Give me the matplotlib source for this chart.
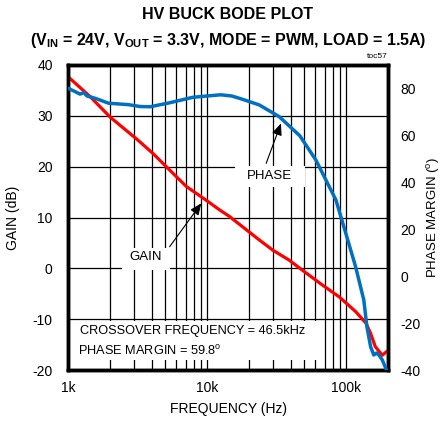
import numpy as np
import matplotlib.pyplot as plt
from matplotlib.patches import Rectangle

plt.rcParams['font.family'] = ['Liberation Sans', 'DejaVu Sans']
plt.rcParams['mathtext.fontset'] = 'custom'
plt.rcParams['mathtext.rm'] = 'Liberation Sans'
plt.rcParams['mathtext.bf'] = 'Liberation Sans:bold'
plt.rcParams['axes.unicode_minus'] = False

# loop gain (dB) vs frequency (kHz)
gain_f = [1.0, 1.44, 2.0, 3.19, 4.08, 6.35, 7.1, 9.85, 12.3, 14.5, 23.7, 29.6,
          39.0, 46.5, 67.6, 89.0, 117, 139, 150, 162, 182, 195, 200]
gain_db = [37.7, 33.8, 29.8, 25.2, 22.6, 17.4, 16.1, 13.4, 11.5, 10.2, 5.6, 3.6,
           1.6, 0.0, -3.3, -5.6, -8.5, -10.8, -12.8, -15.4, -17.1, -16.4, -16.2]

# phase margin (deg) vs frequency (kHz)
phase_f = [1.0, 1.13, 1.22, 1.30, 1.37, 1.57, 1.96, 2.72, 3.3, 3.9, 5.38, 7.86,
           10.0, 12.5, 15.0, 17.1, 23.7, 33.0, 46.5, 60.6, 84.4, 99.4, 117,
           134, 141, 150, 158, 165, 172, 182, 195, 200]
phase_deg = [80.1, 78.6, 77.6, 78.2, 76.8, 75.8, 73.7, 73.1, 72.3, 72.2, 73.9, 76.2,
             76.8, 77.3, 76.8, 75.8, 73.0, 68.0, 59.8, 49.5, 32.5, 18.3, 4.0,
             -10.2, -21.5, -30.1, -33.6, -32.8, -33.6, -35.7, -40.0, -41.0]

fig = plt.figure(figsize=(4.41, 4.28), dpi=100)
ax = fig.add_axes([68 / 441, 58 / 428, 320 / 441, 305 / 428])
ax2 = ax.twinx()

fk = 1e3
ax.set_xscale('log')
ax.set_xlim(1e3, 2e5)
ax.set_ylim(-20, 40)
ax2.set_ylim(-40, 90)

# grid: every 1..9 per decade and every 10 dB
for dec in (1e3, 1e4, 1e5):
    for m in range(1, 10):
        v = dec * m
        if 1e3 < v < 2e5:
            ax.axvline(v, color='black', lw=0.9, zorder=1)
for g in range(-10, 40, 10):
    ax.axhline(g, color='black', lw=0.9, zorder=1)

# white label boxes over the grid
for x0, y0, w, h in [(0.0, 0.033, 0.7875, 0.128), (0.522, 0.60, 0.219, 0.069),
                     (0.169, 0.328, 0.15, 0.072)]:
    ax.add_patch(Rectangle((x0, y0), w, h, transform=ax.transAxes,
                           facecolor='white', edgecolor='none', zorder=2))

ax.plot(np.array(gain_f) * fk, gain_db, color='#ff0000', lw=2.3, zorder=4,
        solid_joinstyle='round')
ax2.plot(np.array(phase_f) * fk, phase_deg, color='#0070c0', lw=2.5, zorder=4,
         solid_joinstyle='round')
ax2.set_zorder(ax.get_zorder() + 1)
ax2.patch.set_visible(False)

ax.set_xticks([1e3, 1e4, 1e5])
ax.set_xticklabels(['1k', '10k', '100k'])
ax.set_xticks([], minor=True)
ax.set_yticks(range(-20, 41, 10))
ax2.set_yticks(range(-40, 81, 20))
for a in (ax, ax2):
    a.tick_params(length=0, labelsize=10)
    for s in a.spines.values():
        s.set_linewidth(2.5)
ax.tick_params(axis='x', pad=8)
ax.tick_params(axis='y', pad=11)
ax2.tick_params(axis='y', pad=9)

ax.set_xlabel('FREQUENCY (Hz)', fontsize=10, labelpad=5)
ax.set_ylabel('GAIN (dB)', fontsize=10, labelpad=9)
ax2.set_ylabel('PHASE MARGIN ($^\\mathregular{o}$)', fontsize=9.5, labelpad=3)

fig.text(0.517, 0.965, 'HV BUCK BODE PLOT', ha='center', va='center',
         fontsize=11.5, fontweight='bold')
fig.text(0.517, 0.905,
         '(V$_\\mathbf{IN}$ = 24V, V$_\\mathbf{OUT}$ = 3.3V, MODE = PWM, LOAD = 1.5A)',
         ha='center', va='center', fontsize=11.5, fontweight='bold')
fig.text(0.88, 0.867, 'toc57', ha='right', va='center', fontsize=6)

ax.text(0.038, 0.127, 'CROSSOVER FREQUENCY = 46.5kHz', transform=ax.transAxes,
        fontsize=9.2, va='center', zorder=3)
ax.text(0.032, 0.064, 'PHASE MARGIN = 59.8$^\\mathregular{o}$', transform=ax.transAxes,
        fontsize=9.2, va='center', zorder=3)

# curve labels with pointer arrows
ax.text(0.631, 0.636, 'PHASE', transform=ax.transAxes, fontsize=9.5,
        ha='center', va='center', zorder=3)
ax.text(0.244, 0.371, 'GAIN', transform=ax.transAxes, fontsize=9.5,
        ha='center', va='center', zorder=3)
arrow = dict(arrowstyle='-|>,head_length=0.7,head_width=0.3',
             color='black', lw=0.8, shrinkA=0, shrinkB=0)
ax.annotate('', xy=(34.0e3, 28.5), xytext=(26.6e3, 20.65), arrowprops=arrow,
            zorder=5)
ax.annotate('', xy=(9.09e3, 12.8), xytext=(5.38e3, 4.25), arrowprops=arrow,
            zorder=5)

fig.savefig('out.png', dpi=100)
